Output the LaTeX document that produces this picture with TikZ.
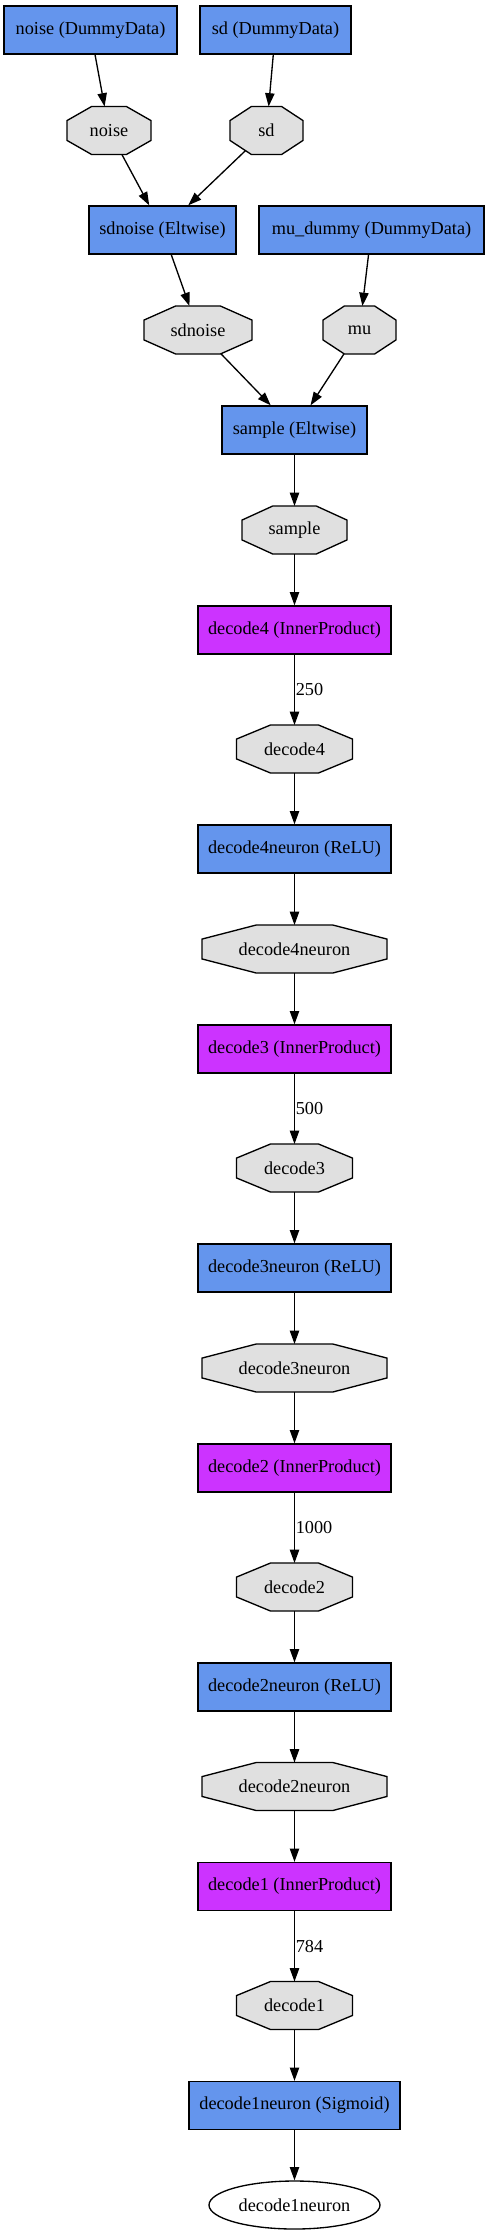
\documentclass[tikz,border=0pt]{standalone}
\usepackage{fontspec}
\setmainfont{Liberation Serif}
\usetikzlibrary{arrows.meta,calc,backgrounds,shapes.geometric}

\definecolor{layerblue}{HTML}{6495ED}
\definecolor{ipmagenta}{HTML}{CC33FF}
\definecolor{blobgray}{HTML}{E0E0E0}

\newcommand{\netfont}{\fontsize{13.7}{16}\selectfont}
% octagon drawn round a (borderless) blob node
\newcommand{\blobshape}[1]{%
  \draw[blobline] ($(#1.north west)!.293!(#1.north east)$) -- ($(#1.north west)!.707!(#1.north east)$)
    -- ($(#1.north east)!.293!(#1.south east)$) -- ($(#1.north east)!.707!(#1.south east)$)
    -- ($(#1.south west)!.707!(#1.south east)$) -- ($(#1.south west)!.293!(#1.south east)$)
    -- ($(#1.north west)!.707!(#1.south west)$) -- ($(#1.north west)!.293!(#1.south west)$) -- cycle;}

\begin{document}
\begin{tikzpicture}[x=0.75pt, y=-0.75pt,
    layer/.style={draw, line width=1pt, fill=layerblue, minimum height=36pt, inner sep=0pt, font=\netfont},
    ip/.style={layer, fill=ipmagenta},
    blob/.style={rectangle, minimum height=36pt, inner sep=0pt, outer sep=0pt, font=\netfont},
    blobline/.style={draw=black, line width=1pt, fill=blobgray},
    flow/.style={-{Triangle[length=10pt,width=7pt]}, line width=1pt},
    size/.style={right, inner sep=0.5pt, font=\netfont}]
    \useasboundingbox (0,0) rectangle (488,2235);

    % Data layers
    \node[layer, minimum width=129.75pt] (noise-data) at (90.5,30) {noise (DummyData)};
    \node[layer, minimum width=113.25pt] (sd-data) at (275.5,30) {sd (DummyData)};
    \node[blob, minimum width=63pt] (noise) at (109,130.5) {noise};
    \node[blob, minimum width=54.75pt] (sd) at (266.5,130.5) {sd};

    % Noise scaling and mean
    \node[layer, minimum width=110.25pt] (sdnoise-op) at (162.5,230) {sdnoise (Eltwise)};
    \node[layer, minimum width=168.75pt] (mu-data) at (371.5,230) {mu\_dummy (DummyData)};
    \node[blob, minimum width=81pt] (sdnoise) at (198,330) {sdnoise};
    \node[blob, minimum width=54.75pt] (mu) at (359.5,330) {mu};

    % Sample
    \node[layer, minimum width=108.75pt] (sample-op) at (294.5,430) {sample (Eltwise)};
    \node[blob, minimum width=78.75pt] (sample) at (294.5,530) {sample};

    % Decoder
    \node[ip, minimum width=144.75pt] (decode4-ip) at (294.5,630) {decode4 (InnerProduct)};
    \node[blob, minimum width=87pt] (decode4) at (294.5,749) {decode4};
    \node[layer, minimum width=144.75pt] (decode4-relu) at (294.5,849) {decode4neuron (ReLU)};
    \node[blob, minimum width=138.75pt] (decode4neuron) at (294.5,949) {decode4neuron};
    \node[ip, minimum width=144.75pt] (decode3-ip) at (294.5,1049) {decode3 (InnerProduct)};
    \node[blob, minimum width=87pt] (decode3) at (294.5,1168) {decode3};
    \node[layer, minimum width=144.75pt] (decode3-relu) at (294.5,1268) {decode3neuron (ReLU)};
    \node[blob, minimum width=138.75pt] (decode3neuron) at (294.5,1368) {decode3neuron};
    \node[ip, minimum width=144.75pt] (decode2-ip) at (294.5,1468) {decode2 (InnerProduct)};
    \node[blob, minimum width=87pt] (decode2) at (294.5,1587) {decode2};
    \node[layer, minimum width=144.75pt] (decode2-relu) at (294.5,1687) {decode2neuron (ReLU)};
    \node[blob, minimum width=138.75pt] (decode2neuron) at (294.5,1786.5) {decode2neuron};
    \node[ip, minimum width=144.75pt] (decode1-ip) at (294.5,1886.5) {decode1 (InnerProduct)};
    \node[blob, minimum width=87pt] (decode1) at (294.5,2005.5) {decode1};
    \node[layer, minimum width=158.25pt] (decode1-sig) at (294.5,2105.5) {decode1neuron (Sigmoid)};
    \node[ellipse, draw, line width=1pt, minimum width=128.25pt, minimum height=36pt, inner sep=0pt, font=\netfont] (output) at (294.5,2205) {decode1neuron};

    % Blob outlines
    \begin{scope}[on background layer]
        \foreach \b in {noise,sd,sdnoise,mu,sample,decode4,decode4neuron,decode3,decode3neuron,decode2,decode2neuron,decode1}
            \blobshape{\b};
    \end{scope}

    % Arrows
    \draw[flow] (noise-data) -- (noise);
    \draw[flow] (sd-data) -- (sd);
    \draw[flow] (noise) -- (sdnoise-op);
    \draw[flow, shorten <=-4pt] (sd) -- (sdnoise-op);
    \draw[flow] (sdnoise-op) -- (sdnoise);
    \draw[flow] (mu-data) -- (mu);
    \draw[flow] (sdnoise) -- (sample-op);
    \draw[flow] (mu) -- (sample-op);
    \draw[flow] (sample-op) -- (sample);
    \draw[flow] (sample) -- (decode4-ip);
    \draw[flow] (decode4-ip) -- node[size] {250} (decode4);
    \draw[flow] (decode4) -- (decode4-relu);
    \draw[flow] (decode4-relu) -- (decode4neuron);
    \draw[flow] (decode4neuron) -- (decode3-ip);
    \draw[flow] (decode3-ip) -- node[size] {500} (decode3);
    \draw[flow] (decode3) -- (decode3-relu);
    \draw[flow] (decode3-relu) -- (decode3neuron);
    \draw[flow] (decode3neuron) -- (decode2-ip);
    \draw[flow] (decode2-ip) -- node[size] {1000} (decode2);
    \draw[flow] (decode2) -- (decode2-relu);
    \draw[flow] (decode2-relu) -- (decode2neuron);
    \draw[flow] (decode2neuron) -- (decode1-ip);
    \draw[flow] (decode1-ip) -- node[size] {784} (decode1);
    \draw[flow] (decode1) -- (decode1-sig);
    \draw[flow] (decode1-sig) -- (output);
\end{tikzpicture}
\end{document}
